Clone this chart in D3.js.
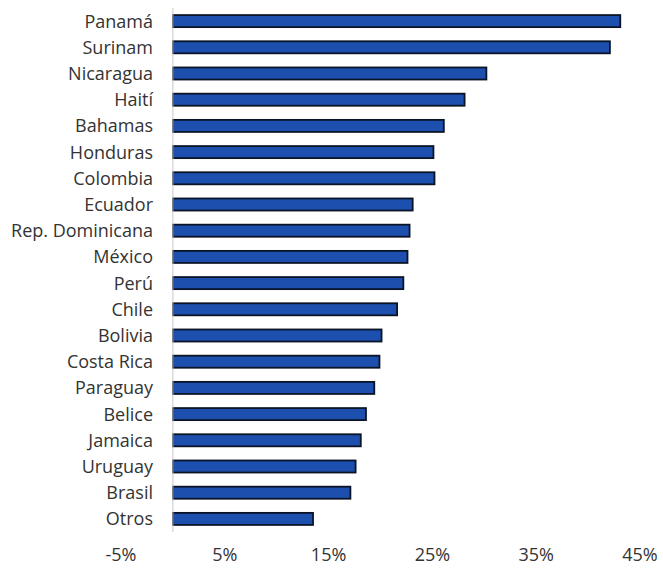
<!DOCTYPE html>
<html>
<head>
<meta charset="utf-8">
<script src="https://cdn.jsdelivr.net/npm/d3@7"></script>
<style>
  html, body { margin: 0; padding: 0; background: #fff; }
  svg { display: block; }
</style>
</head>
<body>
<svg id="chart"></svg>
<script>
// Data
const countries = ['Panamá', 'Surinam', 'Nicaragua', 'Haití', 'Bahamas', 'Honduras', 'Colombia',
  'Ecuador', 'Rep. Dominicana', 'México', 'Perú', 'Chile', 'Bolivia', 'Costa Rica', 'Paraguay',
  'Belice', 'Jamaica', 'Uruguay', 'Brasil', 'Otros'];
const shares = [0.431, 0.421, 0.302, 0.281, 0.261, 0.251, 0.252, 0.231, 0.228, 0.226, 0.222,
  0.216, 0.201, 0.199, 0.194, 0.186, 0.181, 0.176, 0.171, 0.135];
const tickValues = [-0.05, 0.05, 0.15, 0.25, 0.35, 0.45];

const BAR_FILL = '#1c4fae';
const BAR_STROKE = '#0b1426';
const TEXT_COLOR = '#333333';
const FONT = '"Open Sans", Lato, sans-serif';

const width = 663, height = 571;
const svg = d3.select('#chart').attr('width', width).attr('height', height);

const x = d3.scaleLinear().domain([-0.05, 0.45]).range([121, 640]);
const y = d3.scaleBand().domain(countries).range([8, 532]).paddingInner(0.54).paddingOuter(0.27);

// Bars
svg.append('g')
  .selectAll('rect')
  .data(countries)
  .join('rect')
  .attr('x', x(0))
  .attr('y', d => y(d))
  .attr('width', (d, i) => x(shares[i]) - x(0))
  .attr('height', y.bandwidth())
  .attr('fill', BAR_FILL)
  .attr('stroke', BAR_STROKE)
  .attr('stroke-width', 1.8);

// Vertical axis line at 0%
svg.append('line')
  .attr('x1', x(0)).attr('x2', x(0))
  .attr('y1', 8).attr('y2', 532)
  .attr('stroke', '#c8c8c8')
  .attr('stroke-width', 1);

// Category labels
svg.append('g')
  .selectAll('text')
  .data(countries)
  .join('text')
  .attr('x', 153)
  .attr('y', d => y(d) + y.bandwidth() / 2)
  .attr('dy', '0.36em')
  .attr('text-anchor', 'end')
  .attr('font-family', FONT)
  .attr('font-size', 18)
  .attr('fill', TEXT_COLOR)
  .text(d => d);

// X tick labels (plain hyphen for the negative sign, as in the original)
const fmt = d => `${Math.round(d * 100)}%`;
svg.append('g')
  .selectAll('text')
  .data(tickValues)
  .join('text')
  .attr('x', d => x(d))
  .attr('y', 561)
  .attr('text-anchor', 'middle')
  .attr('font-family', FONT)
  .attr('font-size', 18)
  .attr('fill', TEXT_COLOR)
  .text(d => fmt(d));
</script>
</body>
</html>
